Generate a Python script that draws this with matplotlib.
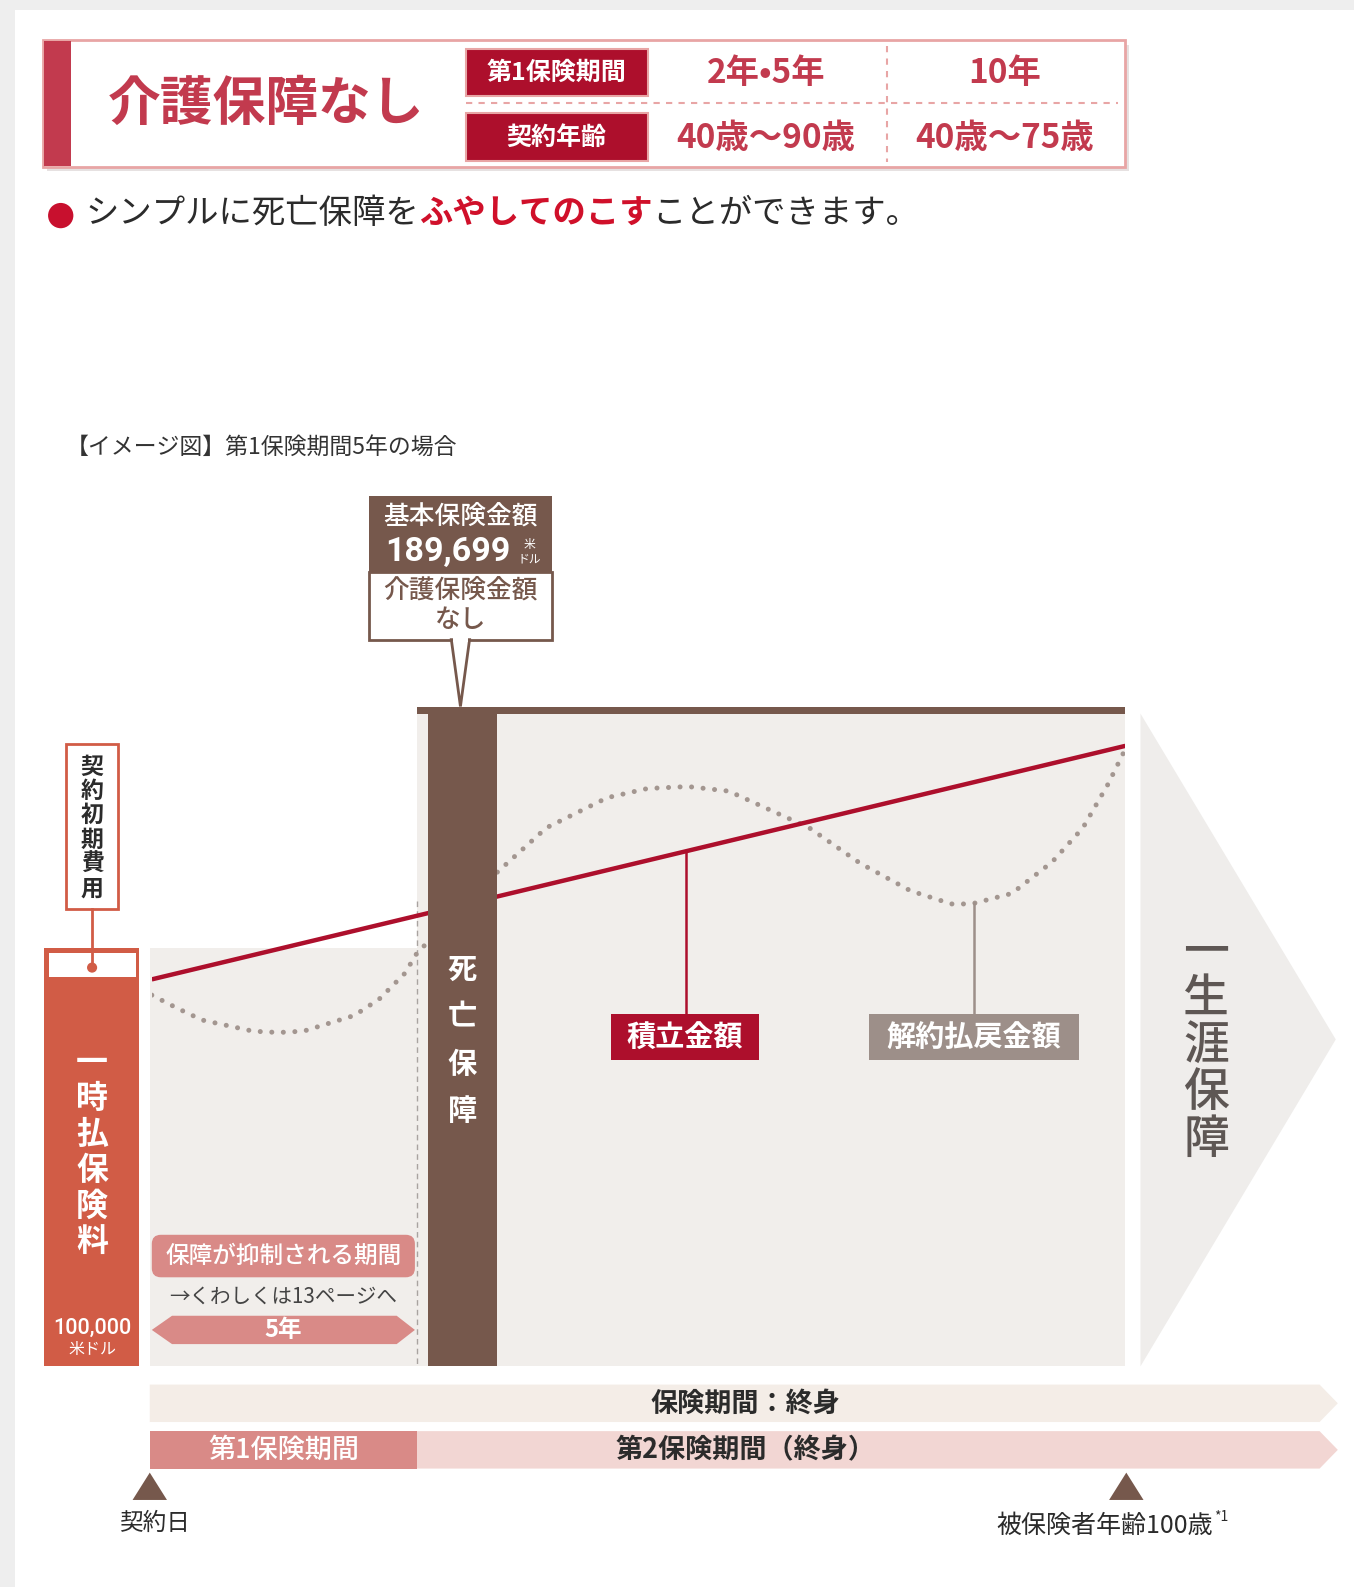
import numpy as np
import matplotlib
matplotlib.use("Agg")
from matplotlib import pyplot as plt
from matplotlib.patches import Rectangle, Polygon, FancyBboxPatch, Circle

plt.rcParams['font.family'] = ['Noto Sans CJK JP', 'DejaVu Sans']

# --- data (schematic: x = policy years, y = value index, base amount = 100)
acc_years = [0, 18.36]
acc_values = [59.0, 94.6]
surr_years = [0, 0.48, 0.95, 1.91, 2.39, 2.86, 3.82, 4.29, 4.77, 5.0, 6.51, 7.44,
              8.59, 9.35, 10.11, 10.88, 11.64, 12.40, 13.36, 14.31, 15.08, 15.46,
              16.22, 16.98, 17.56, 18.03, 18.36]
surr_values = [56.6, 54.6, 52.8, 51.1, 50.9, 51.1, 53.5, 56.0, 59.9, 63.0, 75.3, 82.1,
               86.7, 88.1, 88.4, 87.7, 84.9, 82.1, 76.7, 72.5, 70.5, 70.5,
               72.1, 76.9, 82.1, 88.7, 94.1]
base_amount = 100
period1 = 5
x_end = 18.36
acc_label_year = 10.08
surr_label_year = 15.5
label_top_value = 53.7

header_rows = ["第1保険期間", "契約年齢"]
header_cols = [["2年•5年", "10年"], ["40歳〜90歳", "40歳〜75歳"]]

RED = "#ad0f2c"
TITLE_RED = "#c23a4e"
BROWN = "#76584c"
ORANGE = "#d15c46"
PINK = "#d98a87"
LPINK = "#f2d6d3"
BEIGE = "#f4ede7"
PANEL = "#f1eeeb"
GRAYLAB = "#9d8f89"
DARK = "#2b2b2b"

W, H = 1338, 1568
fig = plt.figure(figsize=(13.54, 15.87), dpi=100)

ax = fig.add_axes([0, 0, 1, 1], zorder=0)
ax.set_xlim(0, W); ax.set_ylim(H, 0); ax.axis('off')

# page frame
ax.add_patch(Rectangle((0, 0), W, 10, color="#eeeeee", lw=0))
ax.add_patch(Rectangle((0, 0), 15, H, color="#eeeeee", lw=0))

# header box
ax.add_patch(Rectangle((46, 44), 1070, 125, color="#e6e1e1", lw=0))
ax.add_patch(Rectangle((42, 40), 1070, 125, fc="white", ec="#e8a5a5", lw=2))
ax.add_patch(Rectangle((43, 41), 27, 123, color="#c23a4e", lw=0))
ax.text(263, 103, "介護保障なし", ha='center', va='center', fontsize=38,
        fontweight='bold', color=TITLE_RED)
for i, lab in enumerate(header_rows):
    y0 = 48 + i * 64
    ax.add_patch(Rectangle((460, y0), 180, 47, fc=RED, ec="#e8a5a5", lw=1.5))
    ax.text(550, y0 + 24, lab, ha='center', va='center', fontsize=18,
            fontweight='bold', color='white')
    for j, val in enumerate(header_cols[i]):
        ax.text(757 + j * 236, y0 + 25, val, ha='center', va='center', fontsize=24,
                fontweight='bold', color=TITLE_RED)
ax.plot([460, 1105], [102, 102], color="#e8a5a5", lw=1.5, ls=(0, (3, 3)))
ax.plot([877, 877], [45, 160], color="#e8a5a5", lw=1.5, ls=(0, (3, 3)))

# subtitle
ax.add_patch(Circle((60, 213), 12.5, color="#c8102e", lw=0))
fig.canvas.draw()
r = fig.canvas.get_renderer()
x = 84
for txt, col, wt in [("シンプルに死亡保障を", DARK, 'normal'),
                     ("ふやしてのこす", "#d0102a", 'bold'),
                     ("ことができます。", DARK, 'normal')]:
    t = ax.text(x, 211, txt, ha='left', va='center', fontsize=24, color=col, fontweight=wt)
    bb = t.get_window_extent(renderer=r)
    x = ax.transData.inverted().transform((bb.x1, bb.y0))[0]

ax.text(65, 442, "【イメージ図】第1保険期間5年の場合", ha='left', va='center',
        fontsize=16.5, color="#333333")

# chart panels
ax.add_patch(Rectangle((148, 937), 264, 413, color=PANEL, lw=0))
ax.add_patch(Rectangle((412, 700), 700, 650, color=PANEL, lw=0))
ax.plot([412, 412], [890, 1350], color="#a9a3a0", lw=1, ls=(0, (4, 3)))
# lifelong arrow
ax.add_patch(Polygon([(1127, 705), (1320, 1027), (1127, 1350)], closed=True,
                     color="#efedeb", lw=0))

# curves axes
cax = fig.add_axes([150 / W, 1 - 1350 / H, (1112 - 150) / W, 650 / H], zorder=1)
cax.set_xlim(0, x_end); cax.set_ylim(0, 100.3); cax.axis('off')
cax.patch.set_alpha(0)
cax.plot(surr_years, surr_values, color="#a39690", lw=3.6, ls=(0, (0.01, 2.3)),
         dash_capstyle='round')
cax.plot(acc_years, acc_values, color=RED, lw=3.2, solid_capstyle='butt')
acc_at = np.interp(acc_label_year, acc_years, acc_values)
surr_at = np.interp(surr_label_year, surr_years, surr_values)
cax.plot([acc_label_year] * 2, [acc_at, label_top_value], color=RED, lw=1.8)
cax.plot([surr_label_year] * 2, [surr_at, label_top_value], color=GRAYLAB, lw=1.8)

# foreground
fx = fig.add_axes([0, 0, 1, 1], zorder=2)
fx.set_xlim(0, W); fx.set_ylim(H, 0); fx.axis('off'); fx.patch.set_alpha(0)

# base amount line and death benefit column
fx.add_patch(Rectangle((412, 699), 700, 6, color=BROWN, lw=0))
fx.add_patch(Rectangle((423, 699), 68, 651, color=BROWN, lw=0))
for k, ch in enumerate("死亡保障"):
    fx.text(457, 958 + k * 46.5, ch, ha='center', va='center', fontsize=21,
            fontweight='bold', color='white')

# callout
fx.add_patch(Rectangle((365, 565), 180, 67, fc='white', ec=BROWN, lw=2))
fx.add_patch(Rectangle((365, 490), 180, 76, color=BROWN, lw=0))
fx.add_patch(Polygon([(446, 632), (464, 632), (455, 698)], closed=True,
                     fc='white', ec=BROWN, lw=2))
fx.add_patch(Rectangle((447.5, 629), 15, 5, color='white', lw=0))
fx.text(455, 510, "基本保険金額", ha='center', va='center', fontsize=18.5,
        color='white', fontweight='medium')
fx.text(443, 545, "189,699", ha='center', va='center', fontsize=24.5,
        color='white', fontweight='bold', family=['Roboto', 'DejaVu Sans'])
fx.text(523, 538, "米", ha='center', va='center', fontsize=8.5, color='white')
fx.text(523, 552, "ドル", ha='center', va='center', fontsize=8.5, color='white')
fx.text(455, 583, "介護保険金額", ha='center', va='center', fontsize=18.5, color=BROWN,
        fontweight='medium')
fx.text(455, 612, "なし", ha='center', va='center', fontsize=18.5, color=BROWN,
        fontweight='medium')

# labels for curves
fx.add_patch(Rectangle((604, 1002), 146, 45, color=RED, lw=0))
fx.text(677, 1025, "積立金額", ha='center', va='center', fontsize=21,
        fontweight='bold', color='white')
fx.add_patch(Rectangle((859, 1002), 207, 45, color=GRAYLAB, lw=0))
fx.text(962, 1025, "解約払戻金額", ha='center', va='center', fontsize=21,
        fontweight='bold', color='white')

for k, ch in enumerate("一生涯保障"):
    fx.text(1192, 940 + k * 46.5, ch, ha='center', va='center', fontsize=33,
            color="#5e5754", fontweight='medium')

# premium bar
fx.add_patch(Rectangle((43, 937), 94, 413, color=ORANGE, lw=0))
fx.add_patch(Rectangle((48, 942), 86, 23, color='white', lw=0))
fx.plot([91, 91], [898, 956], color=ORANGE, lw=2)
fx.add_patch(Circle((91, 956), 5, color=ORANGE, lw=0))
fx.add_patch(Rectangle((65, 735), 52, 163, fc='white', ec=ORANGE, lw=2))
for k, ch in enumerate("契約初期費用"):
    fx.text(91, 758 + k * 24, ch, ha='center', va='center', fontsize=16.5,
            fontweight='bold', color=DARK)
for k, ch in enumerate("一時払保険料"):
    fx.text(91, 1050 + k * 35.5, ch, ha='center', va='center', fontsize=23,
            fontweight='bold', color='white')
fx.text(91, 1312, "100,000", ha='center', va='center', fontsize=15.5,
        color='white', family=['Roboto', 'DejaVu Sans'], fontweight='medium')
fx.text(91, 1333, "米ドル", ha='center', va='center', fontsize=11.5, color='white')

# suppressed period
fx.add_patch(FancyBboxPatch((150, 1220), 260, 42, boxstyle="round,pad=0,rounding_size=9",
                            color=PINK, lw=0))
fx.text(280, 1241, "保障が抑制される期間", ha='center', va='center', fontsize=17,
        color='white', fontweight='medium')
fx.text(280, 1281, "→くわしくは13ページへ", ha='center', va='center', fontsize=14.8,
        color="#444444")
fx.add_patch(Polygon([(150, 1314), (170, 1300), (392, 1300), (410, 1314),
                      (392, 1328), (170, 1328)], closed=True, color=PINK, lw=0))
fx.text(280, 1314, f"{period1}年", ha='center', va='center', fontsize=17,
        fontweight='bold', color='white')

# bottom period bars
fx.add_patch(Polygon([(148, 1368), (1304, 1368), (1322, 1386.5), (1304, 1405),
                      (148, 1405)], closed=True, color=BEIGE, lw=0))
fx.text(737, 1387, "保険期間：終身", ha='center', va='center', fontsize=19.5,
        fontweight='bold', color=DARK)
fx.add_patch(Polygon([(412, 1414), (1304, 1414), (1322, 1432.5), (1304, 1451),
                      (412, 1451)], closed=True, color=LPINK, lw=0))
fx.add_patch(Rectangle((148, 1414), 264, 37, color=PINK, lw=0))
fx.text(280, 1433, "第1保険期間", ha='center', va='center', fontsize=19.5,
        fontweight='medium', color='white')
fx.text(737, 1433, "第2保険期間（終身）", ha='center', va='center', fontsize=19.5,
        fontweight='bold', color=DARK)

for xc in (148, 1113):
    fx.add_patch(Polygon([(xc - 17, 1482), (xc, 1455), (xc + 17, 1482)], closed=True,
                         color=BROWN, lw=0))
fx.text(153, 1505, "契約日", ha='center', va='center', fontsize=17, color=DARK)
t = fx.text(985, 1508, "被保険者年齢100歳", ha='left', va='center', fontsize=18, color=DARK)
bb = t.get_window_extent(renderer=fig.canvas.get_renderer())
xe = fx.transData.inverted().transform((bb.x1, bb.y0))[0]
fx.text(xe + 1, 1499, "*1", ha='left', va='center', fontsize=10, color=DARK)

fig.savefig("out.png", dpi=100, facecolor='white')
